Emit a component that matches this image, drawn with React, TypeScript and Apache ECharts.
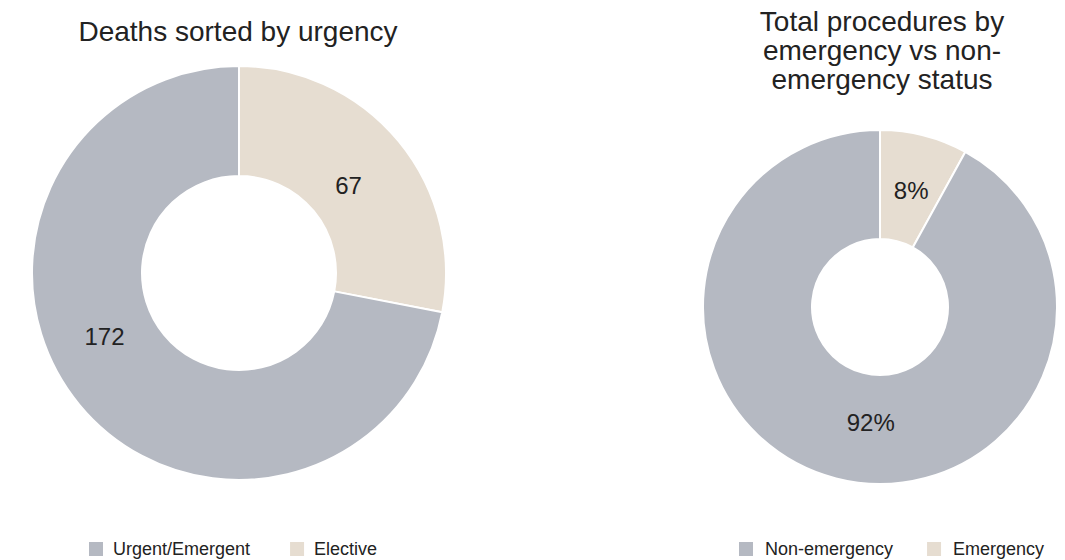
import React, { useEffect, useRef } from "react";
import * as echarts from "echarts";

const deathCategories = ["Elective", "Urgent/Emergent"];
const deathValues = [67, 172];
const procCategories = ["Emergency", "Non-emergency"];
const procValues = [8, 92];

const deathLabelShift = [
  [-10, 11],
  [-15, -35],
];
const procLabelShift = [
  [0, 5],
  [22, -6],
];

const GREY = "#b5b9c2";
const BEIGE = "#e6ddd1";
const FONT = "'Liberation Sans', Arial, Helvetica, sans-serif";
const TEXT = "#222";

export default function App() {
  const ref = useRef<HTMLDivElement>(null);
  useEffect(() => {
    if (!ref.current) return;
    const chart = echarts.init(ref.current, undefined, { renderer: "svg" });
    const colorsDeath = [BEIGE, GREY];
    const colorsProc = [BEIGE, GREY];
    chart.setOption({
      animation: false,
      backgroundColor: "#fff",
      textStyle: { fontFamily: FONT },
      graphic: [
        {
          type: "text",
          x: 238,
          y: 31,
          style: {
            text: "Deaths sorted by urgency",
            font: `28px ${FONT}`,
            fill: TEXT,
            textAlign: "center",
            textVerticalAlign: "middle",
          },
        },
        {
          type: "text",
          x: 882,
          y: 50,
          style: {
            text: "Total procedures by\nemergency vs non-\nemergency status",
            font: `28px ${FONT}`,
            lineHeight: 29,
            fill: TEXT,
            textAlign: "center",
            textVerticalAlign: "middle",
          },
        },
      ],
      legend: [
        {
          data: ["Urgent/Emergent", "Elective"],
          left: 87,
          top: 540,
          padding: 0,
          itemWidth: 16,
          itemHeight: 16,
          itemGap: 38,
          icon: "rect",
          textStyle: { fontSize: 18, color: TEXT, fontFamily: FONT, padding: [0, 0, 0, 4] },
        },
        {
          data: ["Non-emergency", "Emergency"],
          left: 737,
          top: 540,
          padding: 0,
          itemWidth: 16,
          itemHeight: 16,
          itemGap: 32,
          icon: "rect",
          textStyle: { fontSize: 18, color: TEXT, fontFamily: FONT, padding: [0, 0, 0, 6] },
        },
      ],
      series: [
        {
          type: "pie",
          center: [239, 273],
          radius: [97, 207],
          startAngle: 90,
          clockwise: true,
          itemStyle: { borderColor: "#fff", borderWidth: 2 },
          label: {
            show: true,
            position: "inside",
            formatter: "{c}",
            fontSize: 24,
            color: TEXT,
            fontFamily: FONT,
          },
          labelLayout: (p: any) => ({
            dx: deathLabelShift[p.dataIndex][0],
            dy: deathLabelShift[p.dataIndex][1],
          }),
          labelLine: { show: false },
          emphasis: { disabled: true },
          data: deathCategories.map((n, i) => ({
            name: n,
            value: deathValues[i],
            itemStyle: { color: colorsDeath[i] },
          })),
        },
        {
          type: "pie",
          center: [880, 307],
          radius: [68, 177],
          startAngle: 90,
          clockwise: true,
          itemStyle: { borderColor: "#fff", borderWidth: 2 },
          label: {
            show: true,
            position: "inside",
            formatter: "{c}%",
            fontSize: 24,
            color: TEXT,
            fontFamily: FONT,
          },
          labelLayout: (p: any) => ({
            dx: procLabelShift[p.dataIndex][0],
            dy: procLabelShift[p.dataIndex][1],
          }),
          labelLine: { show: false },
          emphasis: { disabled: true },
          data: procCategories.map((n, i) => ({
            name: n,
            value: procValues[i],
            itemStyle: { color: colorsProc[i] },
          })),
        },
      ],
    });
    return () => chart.dispose();
  }, []);
  return (
    <div
      ref={ref}
      style={{ position: "fixed", left: 0, top: 0, width: 1065, height: 560 }}
    />
  );
}
